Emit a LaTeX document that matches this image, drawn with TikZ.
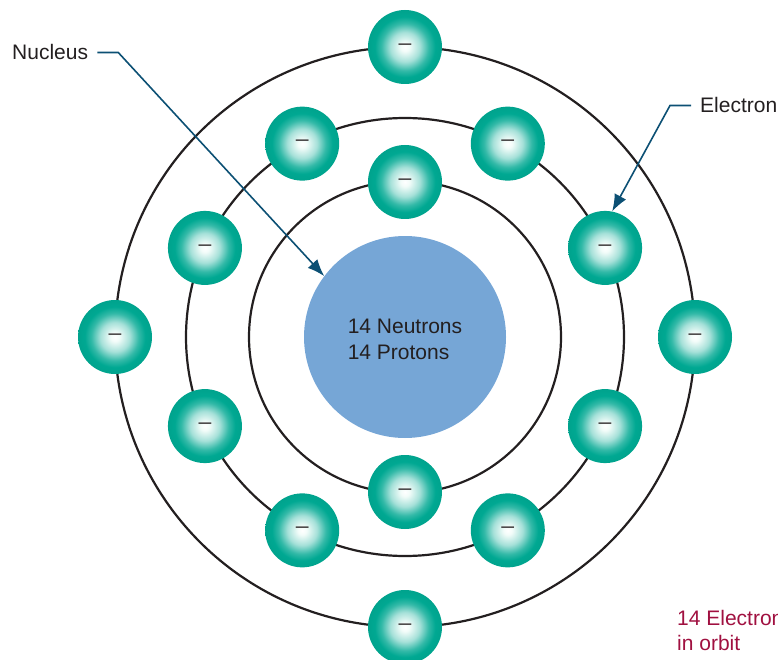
\documentclass[tikz,border=0pt]{standalone}
\usepackage{fontspec}
\setmainfont{Liberation Sans}
\usetikzlibrary{arrows.meta,calc}

\definecolor{ink}{RGB}{35,31,32}
\definecolor{eteal}{RGB}{0,168,146}
\definecolor{eedge}{RGB}{0,163,141}
\definecolor{ecore}{RGB}{242,252,249}
\definecolor{nucblue}{RGB}{118,166,214}
\definecolor{leaderblue}{RGB}{12,80,116}
\definecolor{crimson}{RGB}{160,16,64}

% soft glow for the electrons: pale centre fading to teal at the rim
% (the central 50bp square of a shading is what fills a node)
\pgfdeclareradialshading{electronglow}{\pgfpoint{0bp}{0bp}}{%
  color(0bp)=(white);
  color(3bp)=(ecore);
  color(10bp)=(eteal!35!white);
  color(16bp)=(eteal!80!white);
  color(20.5bp)=(eteal);
  color(25bp)=(eedge);
  color(50bp)=(eedge)}

\tikzset{
  orbit/.style={draw=ink, line width=2.2pt},
  electron/.style={circle, minimum size=74pt, inner sep=0pt,
    shading=electronglow, text=ink!85,
    font=\fontsize{23}{23}\selectfont},
  leader/.style={draw=leaderblue, line width=1.6pt,
    -{Latex[length=17pt,width=13pt]}},
  lbl/.style={text=ink, font=\fontsize{21}{25}\selectfont, inner sep=0pt},
}

\begin{document}
\begin{tikzpicture}[x=1pt,y=-1pt]
\useasboundingbox (0,0) rectangle (778,660);

\coordinate (c) at (405,337);

% three electron shells
\draw[orbit] (c) circle[radius=156];
\draw[orbit] (c) circle[radius=219];
\draw[orbit] (c) circle[radius=290];

% nucleus
\node[circle, fill=nucblue, minimum size=202pt, inner sep=0pt] (nucleus) at (c) {};
\node[lbl, align=left, font=\fontsize{21}{26}\selectfont] (nuctext) at (405,339)
  {14 Neutrons\\14 Protons};

% inner shell: 2 electrons
\node[electron] (i1) at ($(c)+(0,-155)$) {–};
\node[electron] (i2) at ($(c)+(0,155)$) {–};

% middle shell: 8 electrons
\foreach \a/\n in {24/m1, 62/m2, 118/m3, 156/m4, 204/m5, 242/m6, 298/m7, 336/m8}
  \node[electron] (\n) at ($(c)+({219*cos(\a)},{-219*sin(\a)})$) {–};

% outer shell: 4 electrons
\foreach \a/\n in {0/o1, 90/o2, 180/o3, 270/o4}
  \node[electron] (\n) at ($(c)+({290*cos(\a)},{-290*sin(\a)})$) {–};

% labels and leaders
\node[lbl, anchor=base west] (nuclbl) at (12,60) {Nucleus};
\draw[leader] ($(nuclbl.east)+(9,0)$) coordinate (n0) -- ++(21,0) -- (nucleus.143);

\node[lbl, anchor=base west] (elbl) at (700,113) {Electron};
\draw[leader] ($(elbl.west)+(-9,0)$) coordinate (e0) -- ++(-21,0) -- (m1.79);

\node[lbl, text=crimson, anchor=base west] (cnt1) at (677,625) {14 Electrons};
\node[lbl, text=crimson, anchor=base west] (cnt2) at (677,650) {in orbit};
\end{tikzpicture}
\end{document}
